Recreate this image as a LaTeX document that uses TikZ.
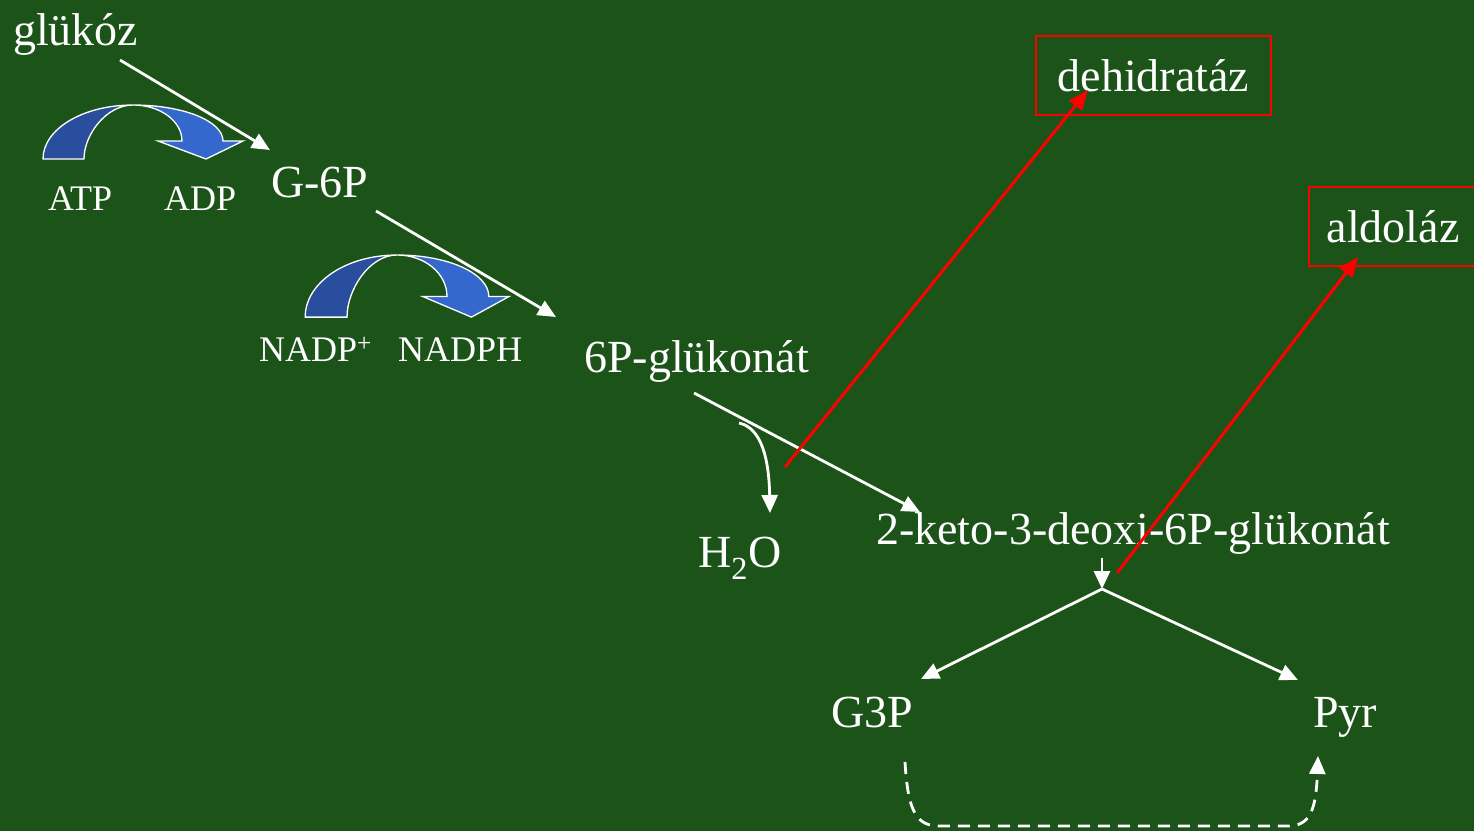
\documentclass[tikz,border=0pt]{standalone}
\usepackage{fontspec}
\setmainfont{Liberation Serif}
\usetikzlibrary{arrows.meta}

\definecolor{board}{RGB}{27,83,25}
\definecolor{bluedark}{RGB}{42,78,158}
\definecolor{bluelight}{RGB}{52,104,205}
\definecolor{enzred}{RGB}{255,0,0}

\tikzset{
  flow/.style={draw=white, line width=2.8pt, -{Triangle[length=18pt,width=16pt]}},
  redflow/.style={draw=enzred, line width=3pt, -{Triangle[length=20pt,width=16pt]}},
  metab/.style={text=white, inner sep=0pt, anchor=base west, font=\fontsize{46}{50}\selectfont},
  cofac/.style={metab, font=\fontsize{36}{40}\selectfont},
  enzyme/.style={metab, anchor=center, draw=enzred, line width=2pt, minimum height=79pt},
  % curved cofactor arrow, origin at its top
  cofarrow/.pic={
    \filldraw[fill=bluedark, draw=white, line width=1.3pt]
      (-90,54) .. controls (-90,24) and (-50,0) .. (0,0)
      .. controls (-27,0) and (-49,30) .. (-49,54) -- cycle;
    \filldraw[fill=bluelight, draw=white, line width=1.3pt]
      (0,0) .. controls (50,0) and (90,16) .. (90,36) -- (110,36) -- (73,54)
      -- (25,36) -- (49,36) .. controls (49,16) and (27,0) .. (0,0) -- cycle;
  }
}

\begin{document}
\begin{tikzpicture}[x=1pt, y=-1pt]
  \useasboundingbox (0,0) rectangle (1474,831);
  \fill[board] (0,0) rectangle (1474,831);

  % metabolites
  \node[metab] (glukoz) at (13,45) {glükóz};
  \node[metab] (g6p) at (271,197) {G-6P};
  \node[metab] (glukonat) at (584,372) {6P-glükonát};
  \node[metab] (water) at (698,567) {H\textsubscript{2}O};
  \node[metab] (kdpg) at (876,544) {2-keto-3-deoxi-6P-glükonát};
  \node[metab] (g3p) at (831,727) {G3P};
  \node[metab] (pyr) at (1313,727) {Pyr};

  % cofactors
  \node[cofac] (atp) at (48,210) {ATP};
  \node[cofac] (adp) at (164,210) {ADP};
  \node[cofac] (nadp) at (259,361) {NADP\textsuperscript{+}};
  \node[cofac] (nadph) at (398,361) {NADPH};
  \pic at (133,105) {cofarrow};
  \pic[xscale=1.02, yscale=1.15] at (397,255) {cofarrow};

  % enzymes
  \node[enzyme, minimum width=235pt] (dehidrataz) at (1153.5,75.5) {dehidratáz};
  \node[enzyme, minimum width=168pt] (aldolaz) at (1393,226.5) {aldoláz};

  % connector ends
  \coordinate (glukoz out) at (120,60);
  \coordinate (g6p in) at (270,150);
  \coordinate (g6p out) at (376,211);
  \coordinate (glukonat in) at (556,317);
  \coordinate (glukonat out) at (694,393);
  \coordinate (kdpg in) at (920,512);
  \coordinate (water out) at (739,423);
  \coordinate (water in) at (770,513);
  \coordinate (kdpg out) at (1102,558);
  \coordinate (split) at (1102,589);
  \coordinate (g3p in) at (921,679);
  \coordinate (pyr in) at (1298,680);
  \coordinate (g3p out) at (905,762);
  \coordinate (pyr back) at (1318,756);
  \coordinate (dehidrataz tip) at (1088,90);
  \coordinate (dehidrataz foot) at (785,467);
  \coordinate (aldolaz tip) at (1358,257);
  \coordinate (aldolaz foot) at (1117,573);

  % pathway
  \draw[flow] (glukoz out) -- (g6p in);
  \draw[flow] (g6p out) -- (glukonat in);
  \draw[flow] (glukonat out) -- (kdpg in);
  \draw[flow] (water out) .. controls (762,428) and (769,460) .. (water in);
  \draw[flow] (kdpg out) -- (split);
  \draw[flow] (split) -- (g3p in);
  \draw[flow] (split) -- (pyr in);
  \draw[flow, dash pattern=on 12pt off 8pt] (g3p out) .. controls (908,815) and (918,826) .. (940,826)
    -- (1288,826) .. controls (1310,826) and (1316,810) .. (pyr back);

  % enzyme pointers
  \draw[redflow] (dehidrataz foot) -- (dehidrataz tip);
  \draw[redflow] (aldolaz foot) -- (aldolaz tip);
\end{tikzpicture}
\end{document}
